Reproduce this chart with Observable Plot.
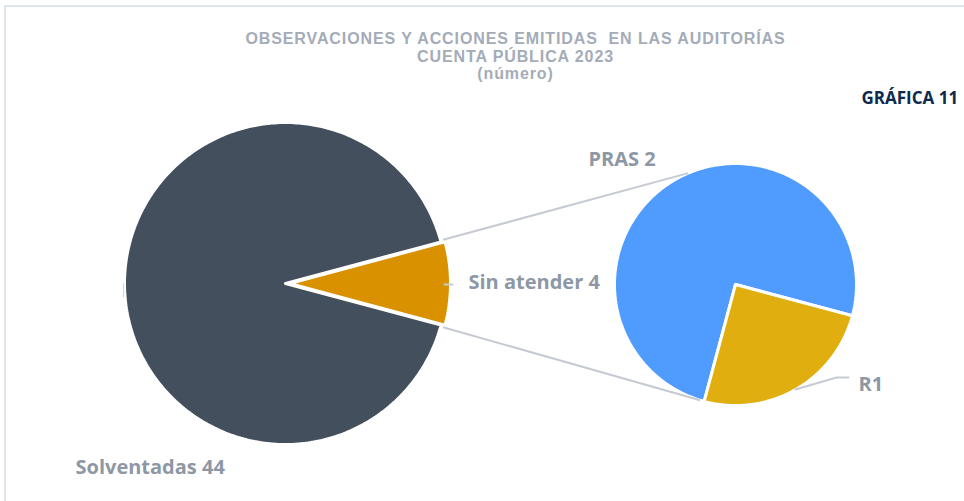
<!DOCTYPE html>
<html><head><meta charset="utf-8">
<script src="https://cdn.jsdelivr.net/npm/d3@7"></script>
<script src="https://cdn.jsdelivr.net/npm/@observablehq/plot@0.6"></script>
<style>
html,body{margin:0;padding:0;background:#fff;}
#wrap{position:relative;width:964px;height:501px;overflow:hidden;}
#frame{position:absolute;left:4px;top:5px;width:980px;height:520px;border-top:2px solid #dfe5ec;border-left:2px solid #dfe5ec;}
#chart{position:absolute;left:0;top:0;}
</style></head>
<body><div id="wrap"><div id="frame"></div><div id="chart"></div></div>
<script>
// ---- data ----
const mainCategories = ["Solventadas", "Sin atender"];
const mainValues = [44, 4];
const mainLabels = ["Solventadas 44", "Sin atender 4"];
const mainColors = ["#434f5d", "#da9100"];
const subCategories = ["PRAS", "R1"];
const subValues = [3, 1];
const subLabels = ["PRAS 2", "R1"];
const subColors = ["#4f9bfe", "#e0ae0e"];
const titleLines = ["OBSERVACIONES Y ACCIONES EMITIDAS  EN LAS AUDITORÍAS", "CUENTA PÚBLICA 2023", "(número)"];
const chartTag = "GRÁFICA 11";

// ---- layout ----
const W = 964, H = 501;
const deg = Math.PI / 180;
const main = {cx: 285, cy: 283, r: 161};
const sub = {cx: 735, cy: 284, r: 121};

function slicePoints(cx, cy, r, a0, a1, id) {
  const pts = [{x: cx, y: cy, id}];
  const n = Math.max(8, Math.ceil((a1 - a0) / deg));
  for (let i = 0; i <= n; i++) {
    const a = a0 + (a1 - a0) * i / n;
    pts.push({x: cx + r * Math.cos(a), y: cy + r * Math.sin(a), id});
  }
  pts.push({x: cx, y: cy, id});
  return pts;
}

// main pie: "Sin atender" centred on east
const mainTotal = d3.sum(mainValues);
const sinSpan = mainValues[1] / mainTotal * 2 * Math.PI;
const mainSlices = [
  {a0: sinSpan / 2, a1: 2 * Math.PI - sinSpan / 2, dx: 0},
  {a0: -sinSpan / 2, a1: sinSpan / 2, dx: 4}
];
// secondary pie: R1 starts 15° below east, clockwise
const subTotal = d3.sum(subValues);
const subStart = 15 * deg;
const r1Span = subValues[1] / subTotal * 2 * Math.PI;
const subSlices = [
  {a0: subStart + r1Span, a1: subStart + 2 * Math.PI},
  {a0: subStart, a1: subStart + r1Span}
];

const marks = [];
mainSlices.forEach((s, i) => {
  marks.push(Plot.line(slicePoints(main.cx + s.dx, main.cy, main.r, s.a0, s.a1, mainCategories[i]),
    {x: "x", y: "y", fill: mainColors[i], stroke: "#fff", strokeWidth: 3, strokeLinejoin: "miter"}));
});
subSlices.forEach((s, i) => {
  marks.push(Plot.line(slicePoints(sub.cx, sub.cy, sub.r, s.a0, s.a1, subCategories[i]),
    {x: "x", y: "y", fill: subColors[i], stroke: "#fff", strokeWidth: 3, strokeLinejoin: "miter"}));
});

// connector lines from exploded slice edges to secondary pie
const sa = mainSlices[1];
const cTop = {x: main.cx + sa.dx + main.r * Math.cos(sa.a0), y: main.cy + main.r * Math.sin(sa.a0)};
const cBot = {x: main.cx + sa.dx + main.r * Math.cos(sa.a1), y: main.cy + main.r * Math.sin(sa.a1)};
const tTop = {x: sub.cx + sub.r * Math.cos(-113 * deg), y: sub.cy + sub.r * Math.sin(-113 * deg)};
const tBot = {x: sub.cx + sub.r * Math.cos(107 * deg), y: sub.cy + sub.r * Math.sin(107 * deg)};
marks.push(Plot.link([
    {x1: cTop.x - 2, y1: cTop.y - 2, x2: tTop.x, y2: tTop.y},
    {x1: cBot.x - 2, y1: cBot.y + 2, x2: tBot.x, y2: tBot.y}
  ],
  {x1: "x1", y1: "y1", x2: "x2", y2: "y2", stroke: "#c5cad3", strokeWidth: 2}));

// leader lines
const leaders = [
  [{x: 795, y: 389}, {x: 836, y: 377}, {x: 848, y: 377}],
  [{x: 444, y: 284}, {x: 452, y: 284}]
];
leaders.forEach(l => marks.push(Plot.line(l, {x: "x", y: "y", stroke: "#c5cad3", strokeWidth: 2})));
marks.push(Plot.line([{x: 123, y: 283}, {x: 123, y: 296}], {x: "x", y: "y", stroke: "#d4d8de", strokeWidth: 1.2}));

// labels
const labelFont = {fontFamily: "'Open Sans', Lato, sans-serif", fontWeight: "bold", fontSize: 20, fill: "#8d97a5", textAnchor: "start", lineAnchor: "bottom"};
marks.push(Plot.text([
  {t: mainLabels[0], x: 75, y: 473},
  {t: mainLabels[1], x: 468, y: 288},
  {t: subLabels[0], x: 588, y: 165},
  {t: subLabels[1], x: 858, y: 390}
], {x: "x", y: "y", text: "t", ...labelFont}));

// title
marks.push(Plot.text(titleLines.map((t, i) => ({t, x: 515, y: [43, 61, 78][i]})),
  {x: "x", y: "y", text: "t", fontFamily: "'Liberation Sans', Arial, sans-serif", fontWeight: "bold", fontSize: 16,
   fill: "#a3acb8", textAnchor: "middle", lineAnchor: "bottom"}));
marks.push(Plot.text([{t: chartTag, x: 861, y: 103}],
  {x: "x", y: "y", text: "t", fontFamily: "'Open Sans', Lato, sans-serif", fontWeight: "bold", fontSize: 17,
   fill: "#0e2a4c", textAnchor: "start", lineAnchor: "bottom"}));

const chart = Plot.plot({
  width: W, height: H,
  margin: 0,
  x: {domain: [0, W], range: [0, W], axis: null},
  y: {domain: [0, H], range: [0, H], axis: null},
  style: {background: "transparent", overflow: "visible"},
  marks
});
d3.select(chart).selectAll("text")
  .filter(function() { return titleLines.includes(this.textContent); })
  .style("letter-spacing", "0.9px");
document.getElementById("chart").appendChild(chart);
</script>
</body></html>
